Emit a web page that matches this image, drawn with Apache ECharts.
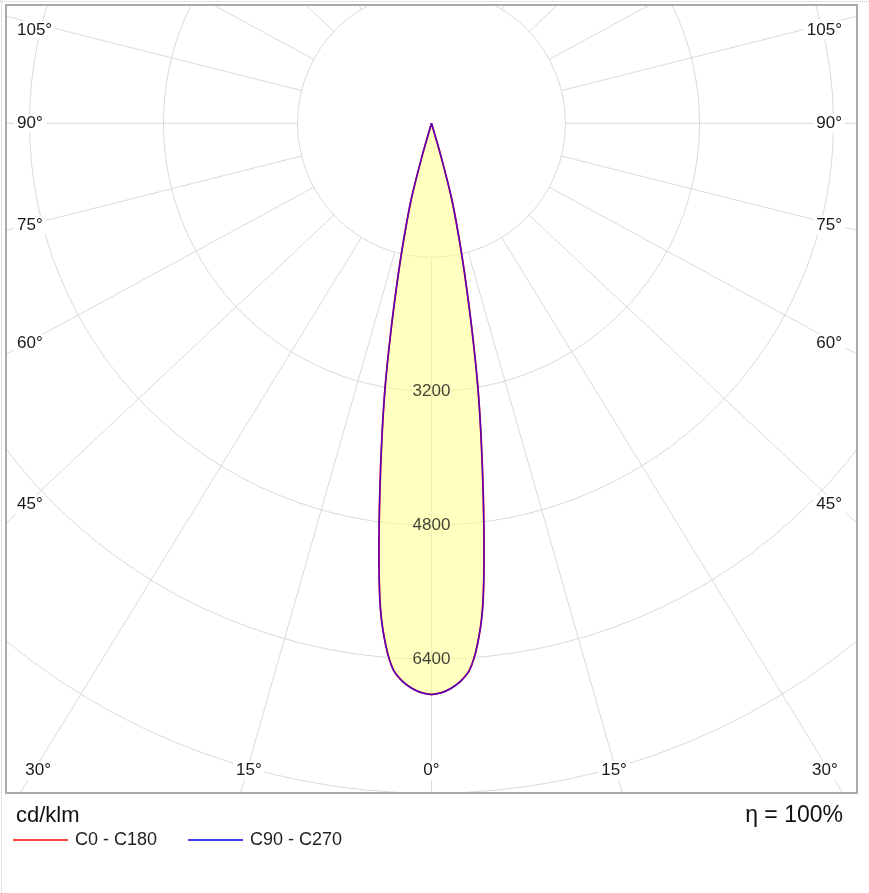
<!DOCTYPE html>
<html>
<head>
<meta charset="utf-8">
<script src="https://cdn.jsdelivr.net/npm/echarts@6.0.0/dist/echarts.min.js"></script>
<style>
html, body { margin: 0; padding: 0; background: #fff; }
#chart { width: 869px; height: 893px; }
</style>
</head>
<body>
<div id="chart"></div>
<script>
// gamma angles (deg) and luminous intensity (cd/klm)
var gammaDeg = [0, 1, 2, 3, 4, 5, 6, 7, 8, 9, 10, 11, 12, 13, 14, 15, 16, 17];
var c0c180   = [6820, 6800, 6750, 6670, 6540, 6260, 5830, 5150, 4430, 3780, 3180, 2560, 2030, 1600, 1230, 920, 420, 0];
var c90c270  = [6820, 6800, 6750, 6670, 6540, 6260, 5830, 5150, 4430, 3780, 3180, 2560, 2030, 1600, 1230, 920, 420, 0];
var ringLabels = [3200, 4800, 6400];
var angleLabels = [0, 15, 30, 45, 60, 75, 90, 105];
var seriesNames = ['C0 - C180', 'C90 - C270'];
var unitText = 'cd/klm';
var etaText = 'η = 100%';

var FONT = '"Liberation Sans", Arial, sans-serif';
var cx = 431.5, cy = 123.3;
var ringStep = 1600, ringPx = 134, rMax = 9600;
var rayAspect = 0.94;   // the rays of the original are drawn slightly flattened
var labelAspect = 0.95;

function flatAngle(n, k) {
	var r = n * Math.PI / 180;
	return Math.atan2(Math.sin(r), k * Math.cos(r)) * 180 / Math.PI;
}

// right half (360 - g) then left half (g), closed at the centre
function curve(vals) {
	var pts = [];
	for (var i = gammaDeg.length - 1; i >= 1; i--) pts.push([vals[i], 360 - gammaDeg[i]]);
	for (var j = 0; j < gammaDeg.length; j++) pts.push([vals[j], gammaDeg[j]]);
	return pts;
}

var rayValues = [];
for (var n = 0; n <= 180; n += 15) {
	var a = flatAngle(n, rayAspect);
	rayValues.push(a);
	if (n > 0 && n < 180) rayValues.push(360 - a);
}

var graphics = [
	// mask everything outside the frame
	{ type: 'rect', z: 50, shape: { x: 0, y: 0, width: 869, height: 5 }, style: { fill: '#fff' } },
	{ type: 'rect', z: 50, shape: { x: 0, y: 0, width: 6, height: 893 }, style: { fill: '#fff' } },
	{ type: 'rect', z: 50, shape: { x: 857, y: 0, width: 12, height: 893 }, style: { fill: '#fff' } },
	{ type: 'rect', z: 50, shape: { x: 0, y: 793, width: 869, height: 100 }, style: { fill: '#fff' } },
	{ type: 'rect', z: 55, shape: { x: 6, y: 5, width: 851, height: 788 }, style: { fill: null, stroke: '#aaaaaa', lineWidth: 2 } },
	{ type: 'line', z: 55, shape: { x1: 1.5, y1: 0, x2: 1.5, y2: 893 }, style: { stroke: '#c8c8c8', lineWidth: 1, lineDash: [1, 1] } },
	{ type: 'line', z: 55, shape: { x1: 0, y1: 1.5, x2: 869, y2: 1.5 }, style: { stroke: '#c8c8c8', lineWidth: 1, lineDash: [1, 1] } },
	{ type: 'text', z: 60, style: { text: unitText, x: 16, y: 816, font: '22px ' + FONT, fill: '#111', align: 'left', verticalAlign: 'middle', textAlign: 'left', textVerticalAlign: 'middle' } },
	{ type: 'text', z: 60, style: { text: etaText, x: 843, y: 816, font: '23px ' + FONT, fill: '#111', align: 'right', verticalAlign: 'middle', textAlign: 'right', textVerticalAlign: 'middle' } }
];

// angle labels where the rays meet the inside of the frame
angleLabels.forEach(function (n) {
	var a = flatAngle(n, labelAspect) * Math.PI / 180;
	var dx = Math.sin(a), dy = Math.cos(a);
	var sideX = 401.5, botY = 647.2;
	var tSide = dx > 1e-6 ? sideX / dx : Infinity;
	var tBot = dy > 1e-6 ? botY / dy : Infinity;
	var sides = n === 0 ? [0] : [-1, 1];
	sides.forEach(function (s) {
		var x, y, align;
		if (tBot <= tSide) {
			x = cx + s * tBot * dx; y = cy + botY; align = 'center';
		} else {
			y = Math.max(30, cy + tSide * dy);
			x = s < 0 ? 14 : 845; align = s < 0 ? 'left' : 'right';
		}
		graphics.push({ type: 'text', z: 60, style: {
			text: n + '°', x: x, y: y, font: '17px ' + FONT, fill: '#1a1a1a',
			align: align, verticalAlign: 'middle', textAlign: align, textVerticalAlign: 'middle',
			backgroundColor: '#fff', padding: [1, 3]
		} });
	});
});

var chart = echarts.init(document.getElementById('chart'), null, { renderer: 'canvas' });
var option = {
	animation: false,
	backgroundColor: '#fff',
	textStyle: { fontFamily: FONT },
	polar: [
		{ center: [cx, cy], radius: rMax / ringStep * ringPx },
		{ center: [cx, cy], radius: [ringPx, 1100] }
	],
	angleAxis: [
		{
			polarIndex: 0, type: 'value', min: 0, max: 360, startAngle: -90, clockwise: true,
			axisLine: { show: false }, axisTick: { show: false }, axisLabel: { show: false }, splitLine: { show: false }
		},
		{
			polarIndex: 1, type: 'value', min: 0, max: 360, startAngle: -90, clockwise: true,
			axisLine: { show: false }, axisLabel: { show: false },
			axisTick: { show: false, customValues: rayValues },
			splitLine: { show: true, lineStyle: { color: '#d9d9d9', width: 1 } }
		}
	],
	radiusAxis: [
		{
			polarIndex: 0, type: 'value', min: 0, max: rMax, interval: ringStep,
			axisLine: { show: false }, axisTick: { show: false }, axisLabel: { show: false },
			splitLine: { show: true, lineStyle: { color: '#d9d9d9', width: 1 } }
		},
		{
			polarIndex: 1, type: 'value', min: 0, max: 1,
			axisLine: { show: false }, axisTick: { show: false }, axisLabel: { show: false }, splitLine: { show: false }
		}
	],
	legend: {
		z: 100,
		data: [
			{ name: seriesNames[0], itemStyle: { color: '#ff0000', opacity: 1 } },
			{ name: seriesNames[1], itemStyle: { color: '#0000e0', opacity: 1 } }
		],
		icon: 'rect',
		left: 13, top: 831, padding: 0,
		itemWidth: 55, itemHeight: 1.3, itemGap: 31,
		textStyle: { fontSize: 18, color: '#222', fontFamily: FONT, padding: [0, 0, 0, 2] }
	},
	series: [
		{
			name: seriesNames[0], type: 'line', coordinateSystem: 'polar', polarIndex: 0,
			data: curve(c0c180), symbol: 'none', smooth: 0.3,
			lineStyle: { color: '#ff0000', width: 1.8 }, itemStyle: { color: '#ff0000' },
			areaStyle: { color: '#ffff8c', opacity: 0.55 }, z: 3
		},
		{
			name: seriesNames[1], type: 'line', coordinateSystem: 'polar', polarIndex: 0,
			data: curve(c90c270), symbol: 'none', smooth: 0.3,
			lineStyle: { color: '#1800ff', width: 1.5, opacity: 0.75 }, itemStyle: { color: '#1800ff' }, z: 4
		},
		{
			type: 'scatter', coordinateSystem: 'polar', polarIndex: 0, silent: true,
			data: ringLabels.map(function (v) { return [v, 0]; }),
			symbolSize: 1, itemStyle: { color: 'rgba(0,0,0,0)' }, z: 5,
			label: { show: true, position: 'inside', color: '#111', fontSize: 17, fontFamily: FONT,
				formatter: function (p) { return String(p.value[0]); } }
		}
	],
	graphic: { elements: graphics }
};
chart.setOption(option);
</script>
</body>
</html>
